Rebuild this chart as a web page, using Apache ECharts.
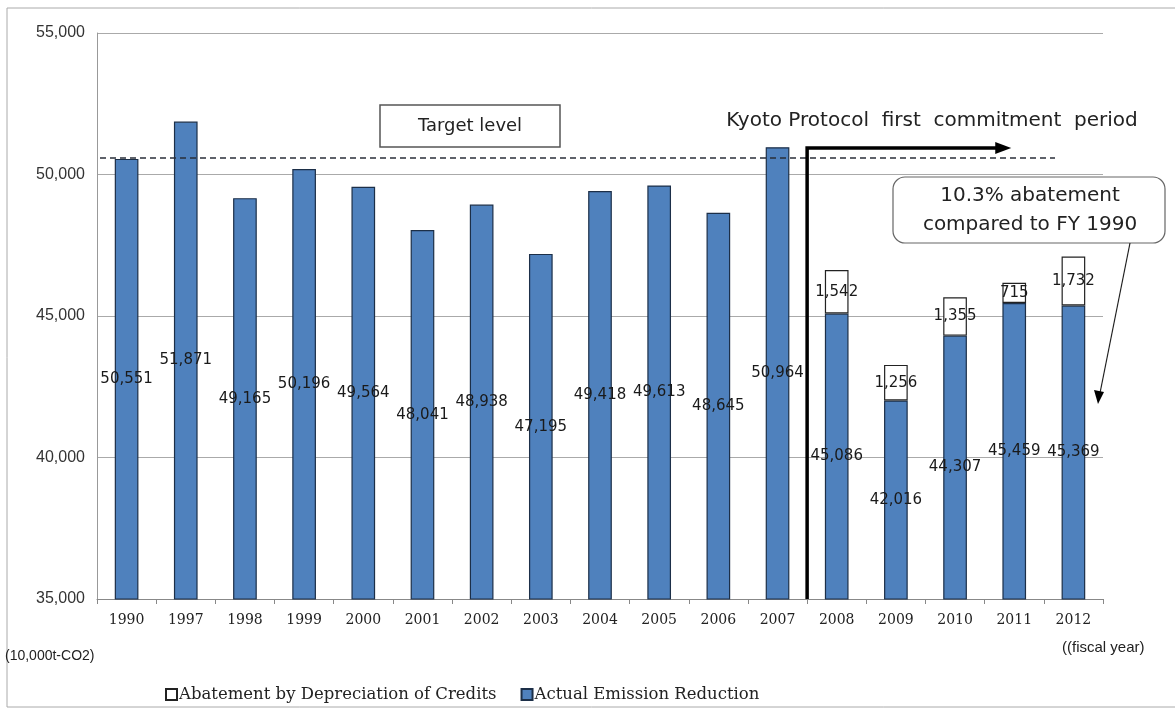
<!DOCTYPE html>
<html>
<head>
<meta charset="utf-8">
<script src="https://cdn.jsdelivr.net/npm/echarts@6/dist/echarts.min.js"></script>
<style>
html,body{margin:0;padding:0;background:#fff;}
#chart{width:1175px;height:713px;}
</style>
</head>
<body>
<div id="chart"></div>
<script>
const years = ['1990','1997','1998','1999','2000','2001','2002','2003','2004','2005','2006','2007','2008','2009','2010','2011','2012'];
const actualReduction = [50551,51871,49165,50196,49564,48041,48938,47195,49418,49613,48645,50964,45086,42016,44307,45459,45369];
const creditAbatement = [null,null,null,null,null,null,null,null,null,null,null,null,1542,1256,1355,715,1732];
const yTicks = [35000,40000,45000,50000,55000];
const targetLevel = 50580;

const chart = echarts.init(document.getElementById('chart'));
const sans = 'Liberation Sans, Arial, sans-serif';
const dsans = 'DejaVu Sans, sans-serif';
const serif = 'DejaVu Serif, serif';

const option = {
  animation: false,
  backgroundColor: '#fff',
  grid: {left: 97, right: 72, top: 33, bottom: 114, containLabel: false},
  legend: {
    left: 160, top: 681, itemGap: 24, itemWidth: 11, itemHeight: 11, icon: 'rect',
    textStyle: {fontFamily: serif, fontSize: 16.5, color: '#222', padding: [0,0,0,-3]},
    data: ['Abatement by Depreciation of Credits', 'Actual Emission Reduction']
  },
  xAxis: {
    type: 'category', data: years,
    axisLine: {lineStyle: {color: '#888'}},
    axisTick: {show: true, alignWithLabel: false, length: 5, lineStyle: {color: '#888'}},
    axisLabel: {fontFamily: serif, fontSize: 14, color: '#222', margin: 14}
  },
  yAxis: {
    type: 'value', min: yTicks[0], max: yTicks[yTicks.length-1], interval: 5000,
    axisLine: {show: true, lineStyle: {color: '#999'}},
    axisTick: {show: false},
    splitLine: {lineStyle: {color: '#aaa'}},
    axisLabel: {fontFamily: sans, fontSize: 16, color: '#333', margin: 12,
      formatter: v => v.toLocaleString('en-US')}
  },
  series: [
    {
      name: 'Actual Emission Reduction', type: 'bar', stack: 'total', barWidth: '40%',
      data: actualReduction,
      itemStyle: {color: '#4F81BD', borderColor: '#1c2f48', borderWidth: 1.2},
      label: {show: true, position: 'inside', fontFamily: dsans, fontSize: 15, color: '#1a1a1a',
        formatter: p => p.value.toLocaleString('en-US')}
    },
    {
      name: 'Abatement by Depreciation of Credits', type: 'bar', stack: 'total', barWidth: '40%',
      data: creditAbatement,
      itemStyle: {color: '#ffffff', borderColor: '#222', borderWidth: 1.2},
      label: {show: true, position: 'inside', fontFamily: dsans, fontSize: 15, color: '#1a1a1a',
        formatter: p => p.value == null ? '' : p.value.toLocaleString('en-US')}
    }
  ]
};
chart.setOption(option);

function px(idx, val){ return chart.convertToPixel({gridIndex:0}, [idx, val]); }
const yTarget = px(0, targetLevel)[1];
const yBase = px(0, yTicks[0])[1];
const xDiv = (px(11, yTicks[0])[0] + px(12, yTicks[0])[0]) / 2;
const xArrowEnd = px(15, yTicks[0])[0] - 5;
const yArrow = 148;

chart.setOption({
  graphic: [
    {type: 'rect', shape: {x: 7, y: 8, width: 1180, height: 699}, style: {fill: 'none', stroke: '#aaa', lineWidth: 1}, silent: true, z: 0},
    {type: 'line', shape: {x1: 100, y1: yTarget, x2: 1055, y2: yTarget}, style: {stroke: '#2a2f3a', lineWidth: 1.5, lineDash: [6, 4]}, z: 50},
    {type: 'rect', shape: {x: 380, y: 105, width: 180, height: 42}, style: {fill: '#fff', stroke: '#555', lineWidth: 1.5}, z: 50},
    {type: 'text', style: {x: 470, y: 126, text: 'Target level', fontFamily: dsans, fontSize: 18, fill: '#222', align: 'center', verticalAlign: 'middle'}, z: 51},
    {type: 'text', style: {x: 932, y: 121, text: 'Kyoto Protocol  first  commitment  period', fontFamily: dsans, fontSize: 20, fill: '#222', align: 'center', verticalAlign: 'middle'}, z: 51},
    {type: 'polyline', shape: {points: [[xDiv, yBase], [xDiv, yArrow], [xArrowEnd - 10, yArrow]]}, style: {stroke: '#000', lineWidth: 3.5, fill: 'none'}, z: 60},
    {type: 'polygon', shape: {points: [[xArrowEnd - 14, yArrow - 6], [xArrowEnd + 2, yArrow], [xArrowEnd - 14, yArrow + 6]]}, style: {fill: '#000'}, z: 60},
    {type: 'rect', shape: {x: 893, y: 177, width: 272, height: 66, r: 12}, style: {fill: '#fff', stroke: '#666', lineWidth: 1.2}, z: 50},
    {type: 'text', style: {x: 1030, y: 196, text: '10.3% abatement', fontFamily: dsans, fontSize: 20, fill: '#222', align: 'center', verticalAlign: 'middle'}, z: 51},
    {type: 'text', style: {x: 1030, y: 225, text: 'compared to FY 1990', fontFamily: dsans, fontSize: 20, fill: '#222', align: 'center', verticalAlign: 'middle'}, z: 51},
    {type: 'line', shape: {x1: 1130, y1: 243, x2: 1100, y2: 393}, style: {stroke: '#222', lineWidth: 1.2}, z: 50},
    {type: 'polygon', shape: {points: [[1094, 390], [1098, 404], [1104, 392]]}, style: {fill: '#000'}, z: 50},
    {type: 'text', style: {x: 5, y: 656, text: '(10,000t-CO2)', fontFamily: sans, fontSize: 14, fill: '#222', align: 'left', verticalAlign: 'middle'}, z: 51},
    {type: 'text', style: {x: 1062, y: 648, text: '((fiscal year)', fontFamily: sans, fontSize: 15, fill: '#222', align: 'left', verticalAlign: 'middle'}, z: 51}
  ]
});
</script>
</body>
</html>
